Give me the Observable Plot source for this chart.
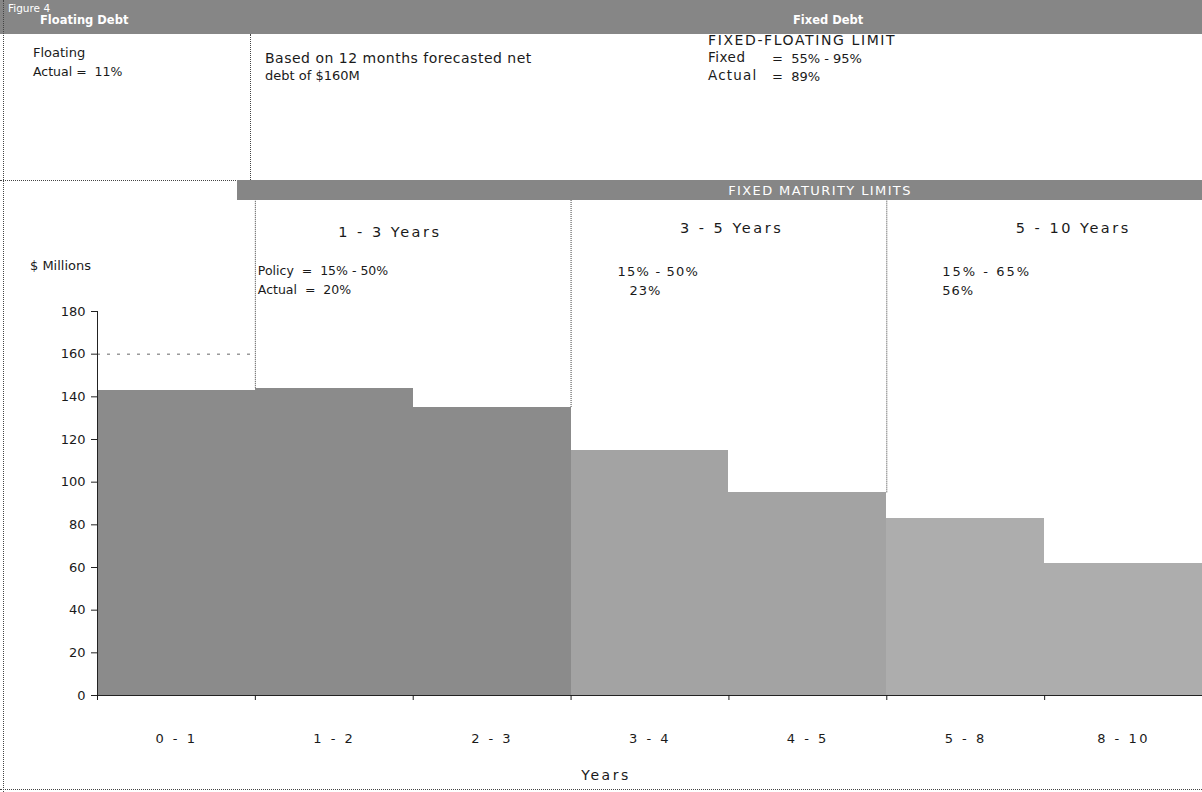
<!DOCTYPE html>
<html><head><meta charset="utf-8">
<script src="https://cdn.jsdelivr.net/npm/d3@7"></script>
<script src="https://cdn.jsdelivr.net/npm/@observablehq/plot@0.6"></script>
<style>
html,body{margin:0;padding:0;background:#fff;}
#fig{position:relative;width:1202px;height:792px;overflow:hidden;font-family:"DejaVu Sans",sans-serif;color:#1a1a1a;background:#fff;}
.t{position:absolute;white-space:pre;font-size:12.5px;line-height:1;transform:translateY(-50%);}
.c{transform:translate(-50%,-50%);}
.w{color:#fff;}
.b{font-weight:bold;}
.band{position:absolute;background:#868686;}
.vl{position:absolute;border-left:1px dotted #444;width:0;}
.hl{position:absolute;border-top:1px dotted #444;height:0;}
#chart{position:absolute;left:0;top:200px;}
#chart g[aria-label="x-axis tick label"] text{letter-spacing:2.5px;}
</style></head><body><div id="fig"></div>
<script>
// ---- data ----
const buckets = ["0 - 1", "1 - 2", "2 - 3", "3 - 4", "4 - 5", "5 - 8", "8 - 10"];
const debt = [143, 144, 135, 115, 95, 83, 62];            // $ millions per maturity bucket
const yTicks = [0, 20, 40, 60, 80, 100, 120, 140, 160, 180];
const forecastNetDebt = 160;                                 // $160M forecast line
const panelNames = ["1 - 3 Years", "3 - 5 Years", "5 - 10 Years"];
const panelStart = [1, 3, 5];                                // bucket boundary where panel starts
const policyRanges = ["15% - 50%", "15% - 50%", "15% - 65%"];
const actualShares = ["20%", "23%", "56%"];

const fig = document.getElementById("fig");
function el(cls, css, text) {
  const d = document.createElement("div");
  d.className = cls;
  Object.assign(d.style, css);
  if (text != null) d.textContent = text;
  fig.appendChild(d);
  return d;
}

// ---- header frame ----
el("band", {left: "0px", top: "0px", width: "1202px", height: "34px"});
el("t w", {left: "8px", top: "8px", fontSize: "10.5px"}, "Figure 4");
el("t w b", {left: "40px", top: "21px", fontSize: "11.5px"}, "Floating Debt");
el("t w b", {left: "793px", top: "21px", fontSize: "11.5px"}, "Fixed Debt");
el("vl", {left: "3px", top: "0px", height: "792px"});
el("vl", {left: "250px", top: "34px", height: "146px"});
el("hl", {left: "0px", top: "180px", width: "240px"});
el("hl", {left: "0px", top: "789px", width: "1202px"});
el("band", {left: "237px", top: "180px", width: "965px", height: "20px"});
el("t w c", {left: "820px", top: "190px", fontSize: "13px", letterSpacing: "1.4px"}, "FIXED MATURITY LIMITS");

el("t", {left: "33px", top: "52px", fontSize: "13px"}, "Floating");
el("t", {left: "33px", top: "72px"}, "Actual =  11%");
el("t", {left: "265px", top: "58px", fontSize: "14px", letterSpacing: "0.5px"}, "Based on 12 months forecasted net");
el("t", {left: "265px", top: "75px", fontSize: "13px"}, "debt of $160M");
el("t", {left: "708px", top: "40px", fontSize: "14px", letterSpacing: "1.6px"}, "FIXED-FLOATING LIMIT");
el("t", {left: "708px", top: "58px", fontSize: "13.5px", letterSpacing: "0.5px"}, "Fixed");
el("t", {left: "772px", top: "58px", fontSize: "13px"}, "=  55% - 95%");
el("t", {left: "708px", top: "76px", fontSize: "13.5px", letterSpacing: "1.2px"}, "Actual");
el("t", {left: "772px", top: "76px", fontSize: "13px"}, "=  89%");
el("t", {left: "30px", top: "265px", fontSize: "13px"}, "$ Millions");

// ---- chart ----
const W = 1202, H = 592, mL = 97, mR = 0, mT = 111, mB = 97;
const yProbe = Plot.scale({y: {domain: [0, 180], range: [H - mB, mT]}});
const yTop = yProbe.invert ? yProbe.invert(0) : 180 + mT * 180 / (H - mB - mT);

const rows = debt.map((v, i) => ({i, v, label: buckets[i]}));
const centers = buckets.map((_, i) => i + 0.5);

const plot = Plot.plot({
  width: W, height: H,
  marginLeft: mL, marginRight: mR, marginTop: mT, marginBottom: mB,
  style: {fontFamily: "DejaVu Sans, sans-serif", fontSize: "13px", color: "#1a1a1a", background: "transparent", overflow: "visible"},
  x: {domain: [0, buckets.length], axis: null},
  y: {domain: [0, 180], axis: null},
  color: {type: "identity"},
  marks: [
    Plot.ruleY([forecastNetDebt], {x1: 0, x2: 1, stroke: "#666", strokeDasharray: "3,7"}),
    Plot.rectY(rows, {x1: "i", x2: d => d.i + 1, y: "v", shapeRendering: "crispEdges",
      fill: d => d.i < 3 ? "#8b8b8b" : (d.i < 5 ? "#a3a3a3" : "#adadad")}),
    Plot.ruleX(panelStart, {x: d => d, y1: d => Math.max(debt[d - 1], debt[d]), y2: yTop, stroke: "#444", strokeDasharray: "1,1"}),
    Plot.ruleX([0], {y1: 0, y2: 180, stroke: "#222"}),
    Plot.ruleY([0], {x1: 0, x2: buckets.length, stroke: "#222"}),
    Plot.axisY({ticks: yTicks, tickSize: 6, tickPadding: 6, label: null, stroke: "#222"}),
    Plot.axisX({ticks: d3.range(buckets.length + 1), tickSize: 5, tickFormat: () => "", label: null}),
    Plot.axisX({ticks: centers, tickSize: 0, tickPadding: 38, tickFormat: d => buckets[Math.floor(d)], label: null})
  ]
});
plot.id = "chart";
fig.appendChild(plot);

// panel annotations positioned from the chart's x scale
const xs = plot.scale("x");
const hdrOff = [135, 161, 187];
const lineOff = [3, 47, 56];
const actOff = [3, 59, 56];
const rangeSpacing = ["0px", "1.2px", "2px"];
panelNames.forEach((name, k) => {
  const x0 = xs.apply(panelStart[k]);
  el("t c", {left: (x0 + hdrOff[k]) + "px", top: (k === 0 ? 232 : 228) + "px", fontSize: "14.5px", letterSpacing: "2.5px"}, name);
  el("t", {left: (x0 + lineOff[k]) + "px", top: "271px", fontSize: (k === 0 ? "12.5px" : "13px"), letterSpacing: rangeSpacing[k]},
     k === 0 ? "Policy  =  " + policyRanges[k] : policyRanges[k]);
  el("t", {left: (x0 + actOff[k]) + "px", top: "290px", fontSize: (k === 0 ? "12.5px" : "13px"), letterSpacing: (k === 0 ? "0px" : "1px")},
     k === 0 ? "Actual  =  " + actualShares[k] : actualShares[k]);
});
el("t c", {left: "606px", top: "775px", fontSize: "14px", letterSpacing: "2.5px"}, "Years");
</script>
</body></html>
